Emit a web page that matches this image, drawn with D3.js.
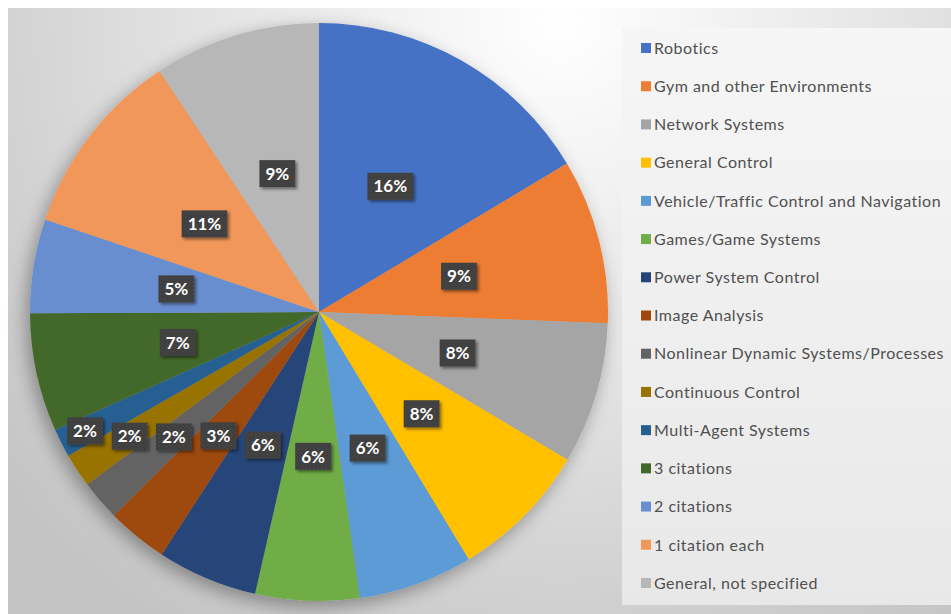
<!DOCTYPE html>
<html>
<head>
<meta charset="utf-8">
<script src="https://cdn.jsdelivr.net/npm/d3@7"></script>
<style>
  body { margin: 0; background: #fff; }
  svg { display: block; }
</style>
</head>
<body>
<svg id="chart"></svg>
<script>
const categories = ["Robotics", "Gym and other Environments", "Network Systems", "General Control",
  "Vehicle/Traffic Control and Navigation", "Games/Game Systems", "Power System Control", "Image Analysis",
  "Nonlinear Dynamic Systems/Processes", "Continuous Control", "Multi-Agent Systems", "3 citations",
  "2 citations", "1 citation each", "General, not specified"];
const shares = [16.4, 9.2, 7.9, 7.8, 6.4, 5.8, 5.6, 3.4, 2.25, 1.9, 1.6, 6.6, 5.25, 10.5, 9.3];
const colors = ["#4472C4", "#ED7D31", "#A5A5A5", "#FFC000", "#5B9BD5", "#70AD47", "#264478", "#9E480E",
  "#636363", "#997300", "#255E91", "#43682B", "#698ED0", "#F1975A", "#B7B7B7"];

const width = 951, height = 614;
const cx = 319, cy = 312, radius = 289;

const svg = d3.select("#chart").attr("width", width).attr("height", height);
const defs = svg.append("defs");

// background gradient
const bg = defs.append("radialGradient").attr("id", "bg")
    .attr("gradientUnits", "userSpaceOnUse")
    .attr("cx", 560).attr("cy", 20).attr("r", 720);
bg.append("stop").attr("offset", 0).attr("stop-color", "#ffffff");
bg.append("stop").attr("offset", 0.55).attr("stop-color", "#e0e0e0");
bg.append("stop").attr("offset", 1).attr("stop-color", "#c4c4c4");

const lg = defs.append("linearGradient").attr("id", "legbg")
    .attr("x1", 0).attr("y1", 0).attr("x2", 0).attr("y2", 1);
lg.append("stop").attr("offset", 0).attr("stop-color", "#f6f6f6");
lg.append("stop").attr("offset", 1).attr("stop-color", "#e8e8e8");

const pieShadow = defs.append("filter").attr("id", "pieShadow")
    .attr("x", "-20%").attr("y", "-20%").attr("width", "140%").attr("height", "140%");
pieShadow.append("feDropShadow").attr("dx", -4).attr("dy", 6).attr("stdDeviation", 9)
    .attr("flood-color", "#000").attr("flood-opacity", 0.35);

const boxShadow = defs.append("filter").attr("id", "boxShadow")
    .attr("x", "-30%").attr("y", "-30%").attr("width", "160%").attr("height", "160%");
boxShadow.append("feDropShadow").attr("dx", 2).attr("dy", 2).attr("stdDeviation", 1.5)
    .attr("flood-color", "#000").attr("flood-opacity", 0.45);

const dots = defs.append("pattern").attr("id", "dots")
    .attr("patternUnits", "userSpaceOnUse").attr("width", 4).attr("height", 4);
dots.append("rect").attr("width", 4).attr("height", 4).attr("fill", "#3d3d3d");
dots.append("circle").attr("cx", 1).attr("cy", 1).attr("r", 0.6).attr("fill", "#686868");
dots.append("circle").attr("cx", 3).attr("cy", 3).attr("r", 0.6).attr("fill", "#585858");

svg.append("rect").attr("width", width).attr("height", height).attr("fill", "#fff");
svg.append("rect").attr("x", 8).attr("y", 8).attr("width", width - 8).attr("height", height - 8)
    .attr("fill", "url(#bg)");

// legend panel
svg.append("rect").attr("x", 622).attr("y", 28).attr("width", 329).attr("height", 577)
    .attr("fill", "url(#legbg)");

// pie
const pie = d3.pie().sort(null).value(d => d)(shares);
const total = d3.sum(shares);
const arc = d3.arc().innerRadius(0).outerRadius(radius);

const g = svg.append("g").attr("transform", `translate(${cx},${cy})`);
g.append("g").attr("filter", "url(#pieShadow)")
  .selectAll("path")
  .data(pie)
  .join("path")
    .attr("d", arc)
    .attr("fill", (d, i) => colors[i]);

// data labels: pushed outward along the slice when they collide,
// thin slices start no closer than the previous label (like excel's best fit)
const labelG = g.append("g");
const placed = [];
let lastR = 0;
pie.forEach((d, i) => {
  const pct = d.value / total * 100;
  const txt = Math.round(pct) + "%";
  const lab = labelG.append("g");
  const t = lab.append("text")
      .attr("text-anchor", "middle").attr("dy", "0.36em")
      .attr("font-family", "Lato, 'Noto Sans', sans-serif")
      .attr("font-weight", "bold").attr("font-size", 17)
      .attr("fill", "#fff").text(txt);
  const w = t.node().getComputedTextLength() + 12, h = 27;
  const a = (d.startAngle + d.endAngle) / 2;
  let r = radius * 0.5, x, y;
  if (pct < 4) r = Math.max(r, lastR);
  for (; r < radius; r += 1) {
    x = Math.sin(a) * r; y = -Math.cos(a) * r;
    const hit = placed.some(p => Math.abs(p.x - x) < (p.w + w) / 2 + 8 && Math.abs(p.y - y) < (p.h + h) / 2 + 8);
    if (!hit) break;
  }
  lastR = r;
  placed.push({x, y, w, h});
  lab.attr("transform", `translate(${x},${y})`);
  lab.insert("rect", "text")
      .attr("x", -w / 2).attr("y", -h / 2).attr("width", w).attr("height", h)
      .attr("fill", "url(#dots)").attr("filter", "url(#boxShadow)");
});

// legend
const ly = d3.scalePoint().domain(categories).range([48, 583]);
const leg = svg.append("g").selectAll("g")
  .data(categories)
  .join("g")
    .attr("transform", d => `translate(641,${ly(d)})`);
leg.append("rect").attr("x", 0).attr("y", -5).attr("width", 10).attr("height", 10)
    .attr("fill", (d, i) => colors[i]);
leg.append("text").attr("x", 13).attr("dy", "0.36em")
    .attr("font-family", "Lato, 'Noto Sans', sans-serif").attr("font-size", 16)
    .attr("letter-spacing", 0.5)
    .attr("fill", "#505050").text(d => d);
</script>
</body>
</html>
